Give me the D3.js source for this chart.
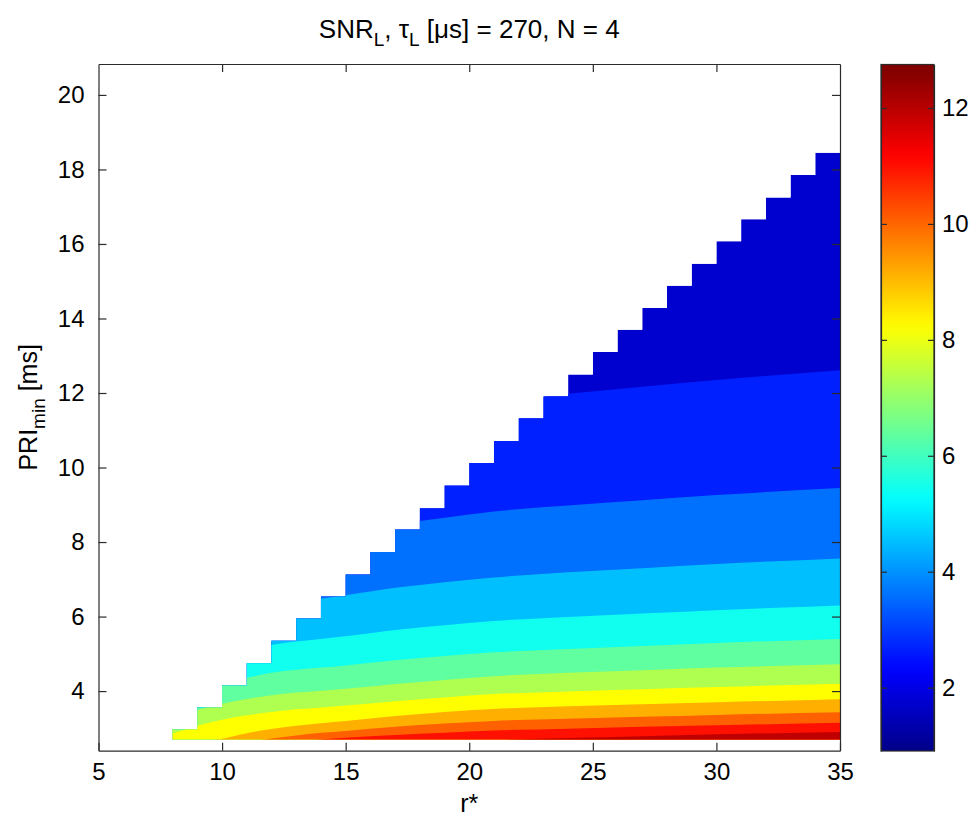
<!DOCTYPE html>
<html>
<head>
<meta charset="utf-8">
<script src="https://cdn.jsdelivr.net/npm/d3@7"></script>
<style>
  html, body { margin: 0; padding: 0; background: #fff; }
  svg text { font-family: "Liberation Sans", Arial, Helvetica, sans-serif; fill: #000; }
</style>
</head>
<body>
<div id="chart"></div>
<script>
// ---------------- data ----------------
// staircase mask: columns r* = colStart .. colStart+1, filled from priBottom up to colTop
const colStart = [8, 9, 10, 11, 12, 13, 14, 15, 16, 17, 18, 19, 20, 21, 22, 23, 24, 25, 26, 27, 28, 29, 30, 31, 32, 33, 34];
const colTop   = [2.97, 3.56, 4.15, 4.75, 5.35, 5.95, 6.54, 7.13, 7.73, 8.34, 8.91, 9.52, 10.12, 10.71, 11.32, 11.91,
                  12.50, 13.10, 13.70, 14.28, 14.88, 15.47, 16.07, 16.66, 17.25, 17.85, 18.45];
const priBottom = 2.7;

// contour levels of SNR_L (lowest first) and colour limits
const levels = [1.818, 2.729, 3.640, 4.551, 5.462, 6.373, 7.284, 8.195, 9.106, 10.017, 10.928, 11.839];
const colorLimits = [0.907, 12.75];

// contour lines: PRI_min [ms] where SNR_L equals levels[1..11], sampled at boundaryR
const boundaryR = [8, 9, 10, 11, 12, 13, 14, 15, 17, 19, 21, 24, 27, 30, 35];
const pri_L2  = [null, null, null, null, null, null, null, null, null, null, 11.76, 11.98, 12.17, 12.35, 12.61];
const pri_L3  = [null, null, null, null, null, null, null, 8.21, 8.46, 8.65, 8.82, 8.98, 9.12, 9.26, 9.45];
const pri_L4  = [null, null, null, null, 6.28, 6.39, 6.48, 6.57, 6.77, 6.92, 7.05, 7.19, 7.30, 7.41, 7.56];
const pri_L5  = [null, null, 4.91, 5.09, 5.24, 5.33, 5.40, 5.47, 5.64, 5.77, 5.88, 5.99, 6.08, 6.17, 6.30];
const pri_L6  = [3.69, 3.99, 4.21, 4.36, 4.49, 4.57, 4.63, 4.69, 4.83, 4.94, 5.04, 5.13, 5.21, 5.29, 5.40];
const pri_L7  = [3.23, 3.49, 3.66, 3.79, 3.89, 3.96, 4.01, 4.06, 4.19, 4.30, 4.40, 4.49, 4.56, 4.63, 4.72];
const pri_L8  = [2.86, 3.07, 3.23, 3.35, 3.44, 3.51, 3.56, 3.61, 3.73, 3.83, 3.92, 3.99, 4.05, 4.11, 4.20];
const pri_L9  = [2.45, 2.62, 2.72, 2.87, 2.98, 3.07, 3.14, 3.20, 3.33, 3.44, 3.52, 3.59, 3.65, 3.70, 3.78];
const pri_L10 = [2.25, 2.40, 2.52, 2.63, 2.73, 2.81, 2.88, 2.93, 3.04, 3.13, 3.20, 3.26, 3.31, 3.36, 3.43];
const pri_L11 = [null, null, 2.30, 2.42, 2.55, 2.63, 2.70, 2.75, 2.82, 2.88, 2.94, 2.99, 3.04, 3.08, 3.15];
const pri_L12 = [null, null, null, null, null, null, null, 2.50, 2.57, 2.63, 2.68, 2.74, 2.79, 2.84, 2.90];

// axes
const xDomain = [5, 35];
const yDomain = [2.4, 20.83];
const xTicks = [5, 10, 15, 20, 25, 30, 35];
const yTicks = [4, 6, 8, 10, 12, 14, 16, 18, 20];
const cTicks = [2, 4, 6, 8, 10, 12];

// ---------------- drawing ----------------
const W = 977, H = 820;
const plot = { left: 98.5, right: 840, top: 64, bottom: 750.7 };
const cbar = { left: 881, right: 934, top: 64.5, bottom: 751 };
const FS = 24;

const svg = d3.select("#chart").append("svg").attr("width", W).attr("height", H);

const x = d3.scaleLinear().domain(xDomain).range([plot.left, plot.right]);
const y = d3.scaleLinear().domain(yDomain).range([plot.bottom, plot.top]);

// MATLAB jet (64 entries)
const jet = d3.scaleLinear()
  .domain([0, 1/8, 3/8, 5/8, 7/8, 1])
  .range(["#000080", "#0000ff", "#00ffff", "#ffff00", "#ff0000", "#800000"])
  .clamp(true);
const tOf = d3.scaleLinear().domain(colorLimits).range([0, 1]).clamp(true);
function levelColor(v) {
  const k = Math.min(64, Math.floor(tOf(v) * 64) + 1);
  return jet(k / 64);
}

// mask polygon (staircase)
const maskPts = [[colStart[0], priBottom]];
colStart.forEach((c, i) => { maskPts.push([c, colTop[i]]); maskPts.push([c + 1, colTop[i]]); });
maskPts.push([colStart[colStart.length - 1] + 1, priBottom]);
const line = d3.line().x(d => x(d[0])).y(d => y(d[1]));

const defs = svg.append("defs");
defs.append("clipPath").attr("id", "mask").append("path").attr("d", line(maskPts) + "Z");

const bands = svg.append("g").attr("clip-path", "url(#mask)");
// base band (lowest level colour) over the whole mask
bands.append("path").attr("d", line(maskPts) + "Z").attr("fill", levelColor(levels[0]));

const boundaries = [pri_L2, pri_L3, pri_L4, pri_L5, pri_L6, pri_L7, pri_L8, pri_L9, pri_L10, pri_L11, pri_L12];
const area = d3.area()
  .x(d => x(d[0])).y0(y(yDomain[0])).y1(d => y(d[1]))
  .curve(d3.curveMonotoneX);

boundaries.forEach((arr, i) => {
  const pts = boundaryR.map((r, j) => [r, arr[j]]).filter(d => d[1] !== null);
  const col = levelColor(levels[i + 1]);
  const g = bands.append("g");
  if (pts[0][1] > priBottom) {
    // contour leaves the mask through its upper edge: everything left of it is in this band too
    g.append("rect")
      .attr("x", x(xDomain[0])).attr("y", y(yDomain[1]))
      .attr("width", x(pts[0][0]) - x(xDomain[0]) + 0.5)
      .attr("height", y(yDomain[0]) - y(yDomain[1]))
      .attr("fill", col);
  }
  g.append("path").attr("d", area(pts)).attr("fill", col);
});

// ---------------- axes ----------------
const axisColor = "#2b2b2b";
function styleAxis(g) {
  g.selectAll("path.domain").attr("stroke", axisColor).attr("stroke-width", 1.2);
  g.selectAll(".tick line").attr("stroke", axisColor).attr("stroke-width", 1.2);
  g.selectAll(".tick text").attr("font-size", FS).attr("fill", "#000")
    .style("font-family", '"Liberation Sans", Arial, sans-serif');
}
svg.append("g").attr("transform", `translate(0,${plot.bottom})`)
  .call(d3.axisBottom(x).tickValues(xTicks).tickFormat(d3.format("d")).tickSizeInner(-8).tickSizeOuter(0).tickPadding(12))
  .call(styleAxis);
svg.append("g").attr("transform", `translate(0,${plot.top})`)
  .call(d3.axisTop(x).tickValues(xTicks.slice(1, -1)).tickFormat("").tickSizeInner(-8).tickSizeOuter(0))
  .call(styleAxis);
svg.append("g").attr("transform", `translate(${plot.left},0)`)
  .call(d3.axisLeft(y).tickValues(yTicks).tickFormat(d3.format("d")).tickSizeInner(-8).tickSizeOuter(0).tickPadding(14))
  .call(styleAxis);
svg.append("g").attr("transform", `translate(${plot.right},0)`)
  .call(d3.axisRight(y).tickValues(yTicks).tickFormat("").tickSizeInner(-8).tickSizeOuter(0))
  .call(styleAxis);

// ---------------- colorbar ----------------
const c = d3.scaleLinear().domain(colorLimits).range([cbar.bottom, cbar.top]);
const grad = defs.append("linearGradient").attr("id", "jetgrad")
  .attr("x1", 0).attr("y1", 1).attr("x2", 0).attr("y2", 0);
d3.range(0, 65).forEach(i => {
  const t = i / 64;
  grad.append("stop").attr("offset", t).attr("stop-color", jet(Math.min(1, t + 1 / 128)));
});
svg.append("rect")
  .attr("x", cbar.left).attr("y", cbar.top)
  .attr("width", cbar.right - cbar.left).attr("height", cbar.bottom - cbar.top)
  .attr("fill", "url(#jetgrad)");
svg.append("g").attr("transform", `translate(${cbar.right},0)`)
  .call(d3.axisRight(c).tickValues(cTicks).tickFormat(d3.format("d")).tickSizeInner(-6).tickSizeOuter(0).tickPadding(8))
  .call(styleAxis);
svg.append("g").attr("transform", `translate(${cbar.left},0)`)
  .call(d3.axisLeft(c).tickValues(cTicks).tickFormat("").tickSizeInner(-6).tickSizeOuter(0))
  .call(styleAxis);
svg.append("rect")
  .attr("x", cbar.left).attr("y", cbar.top)
  .attr("width", cbar.right - cbar.left).attr("height", cbar.bottom - cbar.top)
  .attr("fill", "none").attr("stroke", axisColor).attr("stroke-width", 1.2);

// ---------------- labels ----------------
const title = svg.append("text")
  .attr("x", (plot.left + plot.right) / 2).attr("y", 38)
  .attr("text-anchor", "middle").attr("font-size", 26);
title.append("tspan").text("SNR");
title.append("tspan").attr("dy", 8).attr("font-size", 19).text("L");
title.append("tspan").attr("dy", -8).text(", τ");
title.append("tspan").attr("dy", 8).attr("font-size", 19).text("L");
title.append("tspan").attr("dy", -8).text(" [μs] = 270, N = 4");

svg.append("text")
  .attr("x", (plot.left + plot.right) / 2).attr("y", 812)
  .attr("text-anchor", "middle").attr("font-size", 25).text("r*");

const ylab = svg.append("text")
  .attr("transform", `translate(37,${(plot.top + plot.bottom) / 2}) rotate(-90)`)
  .attr("text-anchor", "middle").attr("font-size", 25);
ylab.append("tspan").text("PRI");
ylab.append("tspan").attr("dy", 8).attr("font-size", 19).text("min");
ylab.append("tspan").attr("dy", -8).text(" [ms]");
</script>
</body>
</html>
